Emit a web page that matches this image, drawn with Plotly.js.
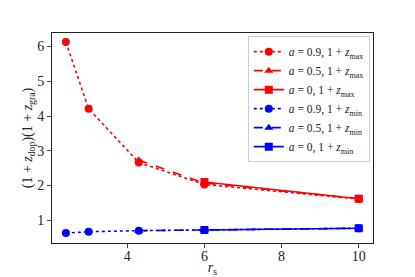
<!DOCTYPE html>
<html><head><meta charset="utf-8">
<script src="https://cdn.plot.ly/plotly-3.0.1.min.js"></script>
<style>body{margin:0;background:#fff}#c{width:415px;height:277px}</style>
</head><body><div id="c"></div>
<script>
const rs09 = [2.41, 3.0, 4.3, 6.0, 10.0];
const rs05 = [4.3, 6.0, 10.0];
const rs00 = [6.0, 10.0];
const zmax09 = [6.13, 4.21, 2.66, 2.03, 1.61];
const zmax05 = [2.73, 2.07, 1.62];
const zmax00 = [2.10, 1.62];
const zmin09 = [0.63, 0.67, 0.70, 0.72, 0.77];
const zmin05 = [0.70, 0.72, 0.77];
const zmin00 = [0.72, 0.77];
const names = [
 '<i>a</i> = 0.9, 1 + <i>z</i><sub>max</sub>',
 '<i>a</i> = 0.5, 1 + <i>z</i><sub>max</sub>',
 '<i>a</i> = 0, 1 + <i>z</i><sub>max</sub>',
 '<i>a</i> = 0.9, 1 + <i>z</i><sub>min</sub>',
 '<i>a</i> = 0.5, 1 + <i>z</i><sub>min</sub>',
 '<i>a</i> = 0, 1 + <i>z</i><sub>min</sub>'
];
function tr(x,y,name,color,dash,sym){
  return {x:x,y:y,name:name,mode:'lines+markers',type:'scatter',
    line:{color:color,dash:dash,width:1.6},
    marker:{color:color,symbol:sym,size:8}};
}
const data = [
 tr(rs09,zmax09,names[0],'#ff0000','dot','circle'),
 tr(rs05,zmax05,names[1],'#ff0000','dash','triangle-up'),
 tr(rs00,zmax00,names[2],'#ff0000','solid','square'),
 tr(rs09,zmin09,names[3],'#0000ff','dot','circle'),
 tr(rs05,zmin05,names[4],'#0000ff','dash','triangle-up'),
 tr(rs00,zmin00,names[5],'#0000ff','solid','square')
];
const FF = '"Liberation Serif", "DejaVu Serif", serif';
const layout = {
  width:415, height:277,
  margin:{l:52, r:42, t:33, b:34},
  paper_bgcolor:'#fff', plot_bgcolor:'#fff',
  font:{family:FF, size:14, color:'#222'},
  showlegend:true,
  legend:{x:0.99, y:0.985, xanchor:'right', yanchor:'top',
    bgcolor:'rgba(255,255,255,0.8)', bordercolor:'#ccc', borderwidth:1,
    font:{family:FF, size:11.5, color:'#222'},
    tracegroupgap:0, itemwidth:30},
  xaxis:{range:[2.05,10.37], tickvals:[4,6,8,10], ticks:'outside', ticklen:4,
    ticklabelstandoff:-4,
    tickfont:{family:FF, size:14, color:'#222'},
    showline:true, mirror:true, linecolor:'#222', linewidth:1, showgrid:false, zeroline:false,
    title:{text:'<i>r</i><sub>s</sub>', standoff:4, font:{family:FF, size:14}}},
  yaxis:{range:[0.345,6.39], tickvals:[1,2,3,4,5,6], ticks:'outside', ticklen:4,
    tickfont:{family:FF, size:14, color:'#222'},
    showline:true, mirror:true, linecolor:'#222', linewidth:1, showgrid:false, zeroline:false,
    title:{text:'(1 + <i>z</i><sub>dop</sub>)(1 + <i>z</i><sub>gra</sub>)', standoff:0, font:{family:FF, size:14}}}
};
Plotly.newPlot('c', data, layout, {displayModeBar:false, staticPlot:true});
</script></body></html>
